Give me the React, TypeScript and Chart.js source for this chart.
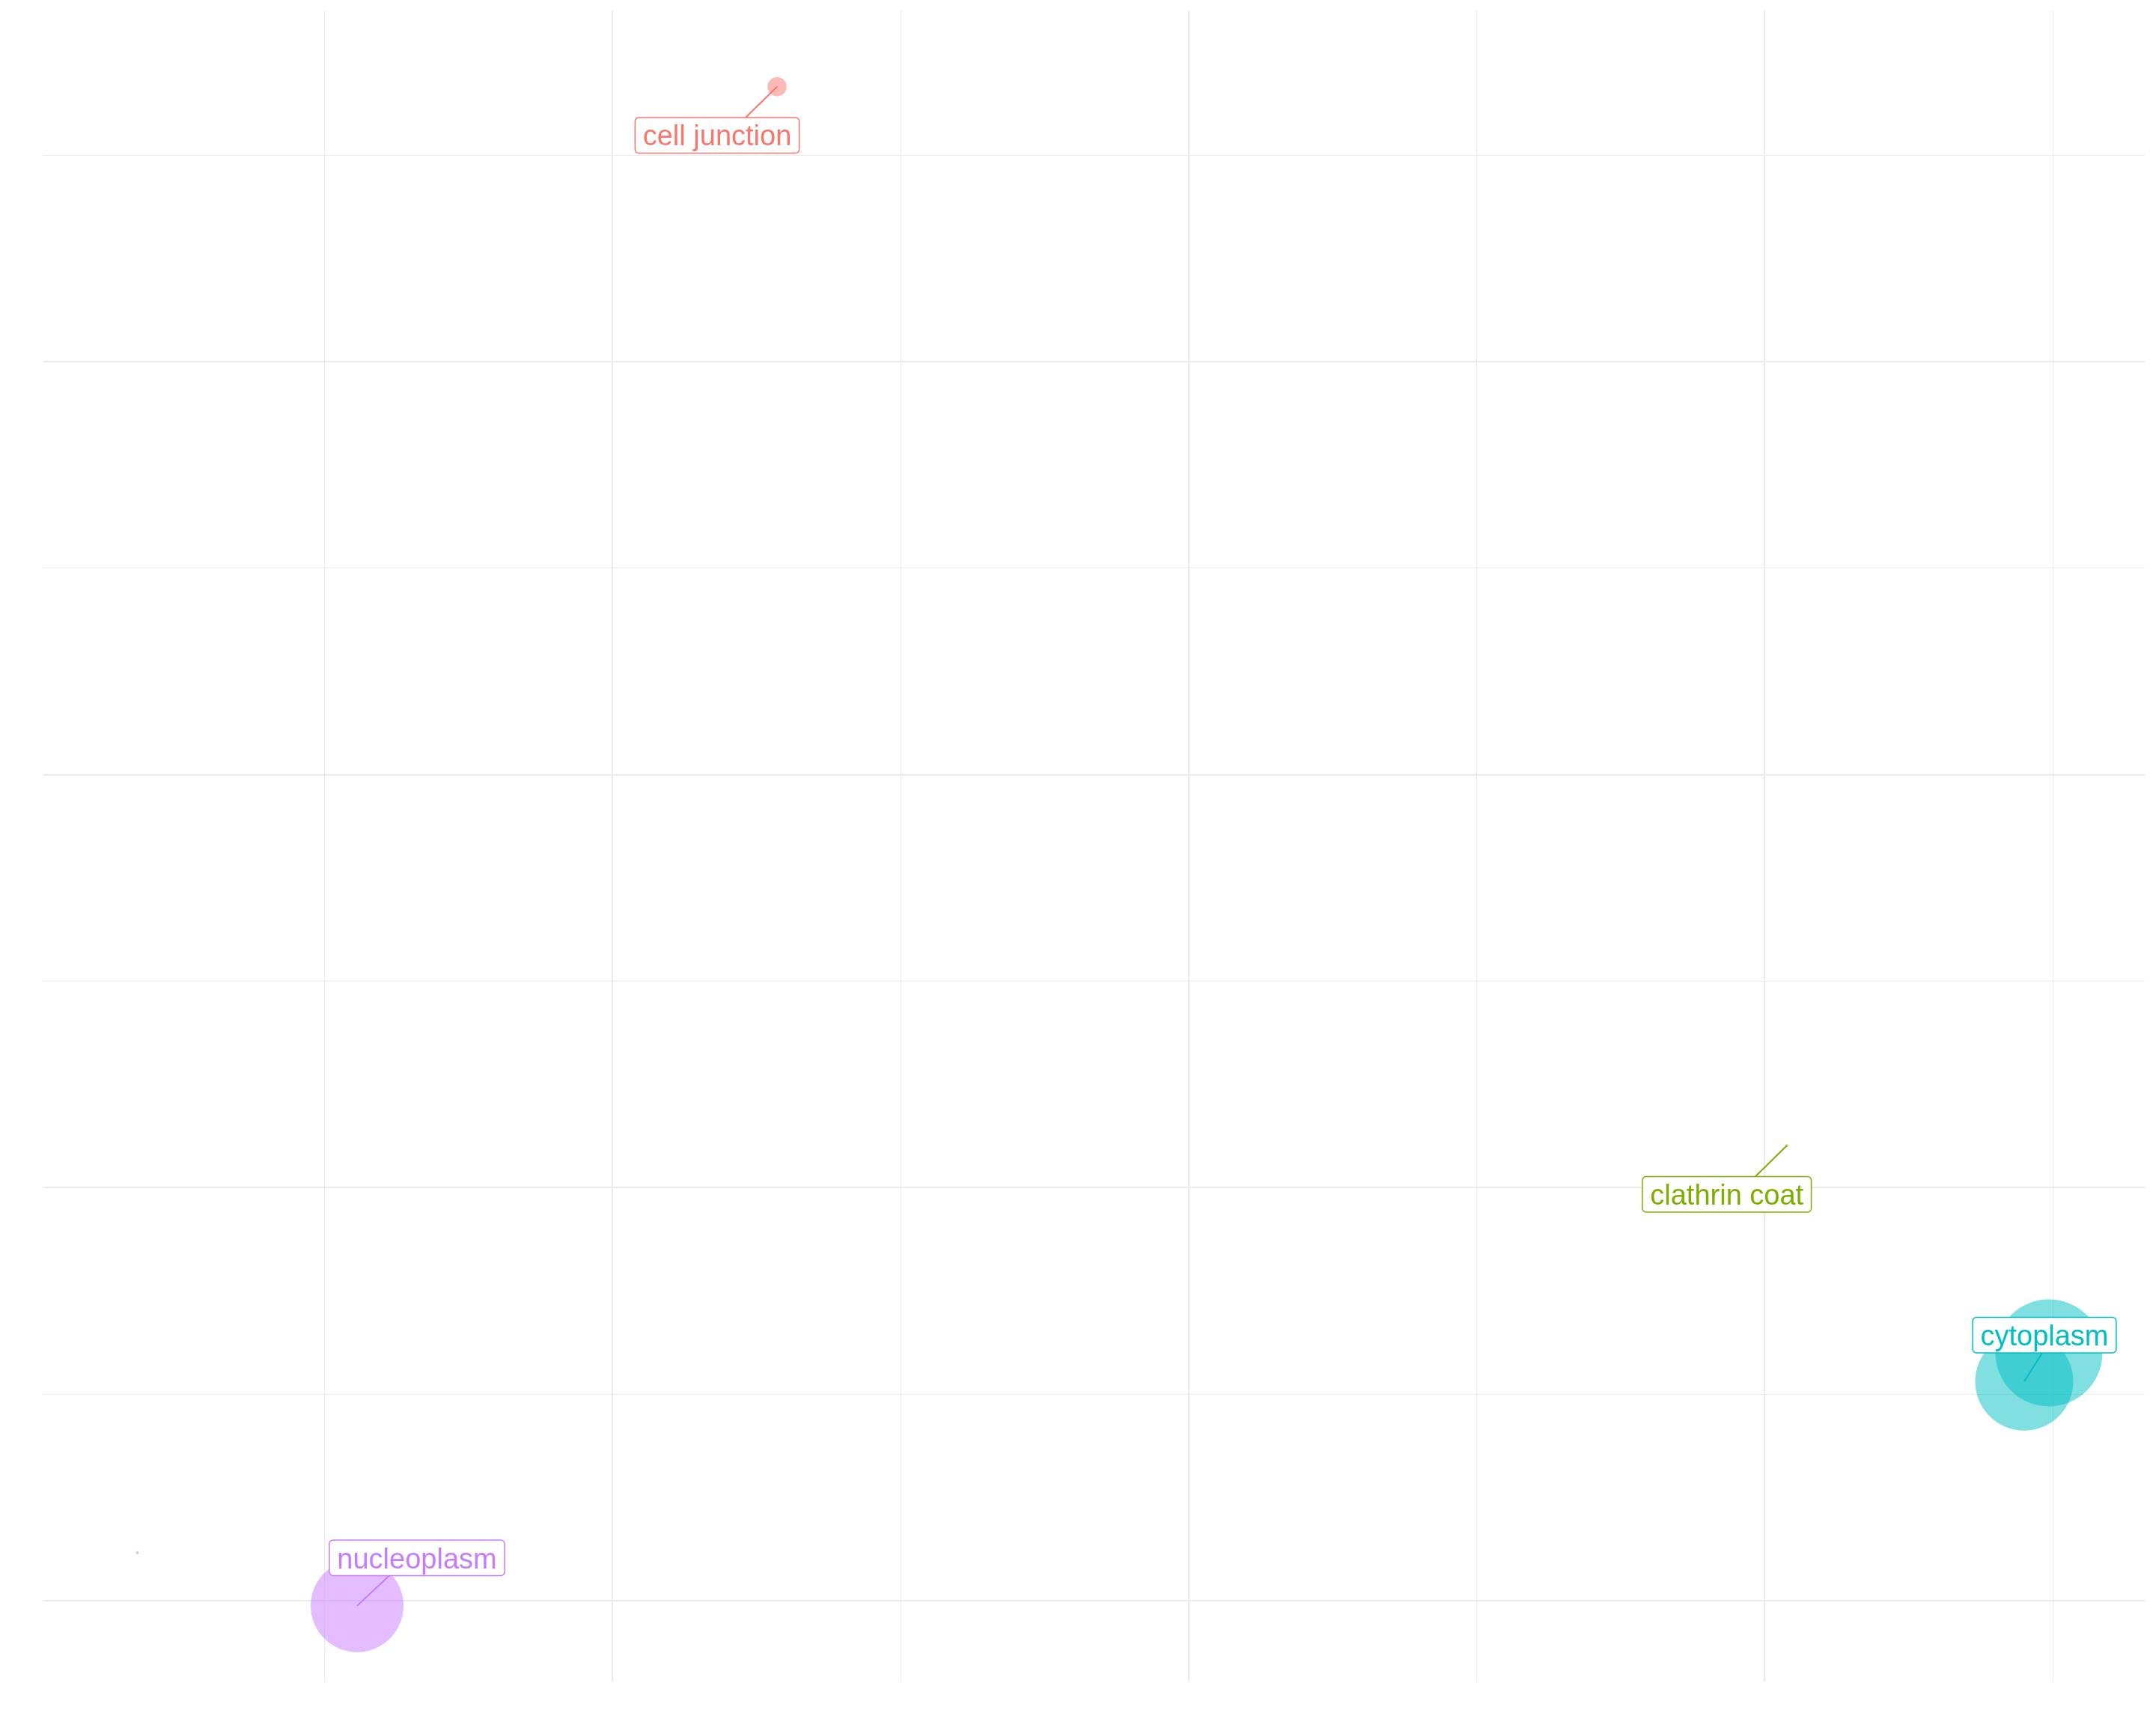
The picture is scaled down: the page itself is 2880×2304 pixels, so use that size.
import React, { useEffect, useRef } from "react";
import { Chart, registerables, BubbleController } from "chart.js";

Chart.register(...registerables);

// Bubble controller that does not widen the layout padding by the largest bubble radius
class TightBubbleController extends (BubbleController as any) {
  getMaxOverflow() {
    return false;
  }
}
(TightBubbleController as any).id = "tightBubble";
(TightBubbleController as any).defaults = (BubbleController as any).defaults;
(TightBubbleController as any).overrides = (BubbleController as any).overrides;
Chart.register(TightBubbleController as any);

// ---------- data ----------
const TERMS = ["cell junction", "clathrin coat", "cytoplasm", "nucleoplasm"];
const TERM_COLORS = ["#F8766D", "#7CAE00", "#00BFC4", "#C77CFF"];

// one entry per plotted point
const POINT_TERM = ["cell junction", "clathrin coat", "cytoplasm", "cytoplasm", "nucleoplasm", "nucleoplasm"];
const POINT_X = [1.2856, 3.038, 3.4931, 3.4502, 0.5567, 0.1753];
const POINT_Y = [4.6655, 2.1016, 1.6, 1.5306, 0.9877, 1.116];
const POINT_SIZE = [2.37, 0, 100, 83.5, 74.5, 0];

// grid breaks (no tick labels are shown)
const X_BREAKS = [0.5, 1, 1.5, 2, 2.5, 3, 3.5];
const X_MAJOR = [1, 2, 3];
const Y_BREAKS = [1, 1.5, 2, 2.5, 3, 3.5, 4, 4.5];
const Y_MAJOR = [1, 2, 3, 4];
const X_LIMITS = [0.01096, 3.65943];
const Y_LIMITS = [0.8042, 4.8499];

// which points carry a repelled label (index into point arrays) + layout offsets in px
const LABEL_LAYOUT = [
  { point: 0, dx: -80, dy: 65, sx: -42 },
  { point: 1, dx: -80, dy: 65, sx: -42 },
  { point: 3, dx: 27, dy: -62, sx: 24 },
  { point: 4, dx: 80, dy: -64, sx: 43 },
];

// ---------- styles ----------
const R_MIN = 2;
const R_MAX = 71.5;
const SIZE_MAX = 100;
const GRID_COLOR = "#EBEBEB";
const FONT_SIZE = 38;
const PAD_X = 10.4;
const BOX_H = 47.5;

function hexToRgba(hex: string, a: number) {
  const n = parseInt(hex.slice(1), 16);
  return `rgba(${(n >> 16) & 255},${(n >> 8) & 255},${n & 255},${a})`;
}

function sizeToRadius(v: number) {
  return R_MIN + (R_MAX - R_MIN) * Math.sqrt(Math.max(0, v) / SIZE_MAX);
}

export default function App() {
  const ref = useRef<HTMLCanvasElement | null>(null);

  useEffect(() => {
    if (!ref.current) return;

    const pointRefs: { ds: number; idx: number }[] = [];
    const datasets = TERMS.map((term, ti) => {
      const data: any[] = [];
      POINT_TERM.forEach((t, pi) => {
        if (t === term) {
          pointRefs[pi] = { ds: ti, idx: data.length };
          data.push({ x: POINT_X[pi], y: POINT_Y[pi], r: sizeToRadius(POINT_SIZE[pi]) });
        }
      });
      return {
        label: term,
        data,
        backgroundColor: hexToRgba(TERM_COLORS[ti], 0.5),
        borderWidth: 0,
        hoverRadius: 0,
        clip: false,
      };
    });

    const labelPlugin = {
      id: "repelLabels",
      afterDatasetsDraw(chart: any) {
        const ctx = chart.ctx as CanvasRenderingContext2D;
        ctx.save();
        ctx.font = `${FONT_SIZE}px "Liberation Sans", Arial, sans-serif`;
        LABEL_LAYOUT.forEach((l) => {
          const pr = pointRefs[l.point];
          const el = chart.getDatasetMeta(pr.ds).data[pr.idx];
          const px = el.x;
          const py = el.y;
          const term = POINT_TERM[l.point];
          const color = TERM_COLORS[TERMS.indexOf(term)];
          const tw = ctx.measureText(term).width;
          const w = tw + 2 * PAD_X;
          const cx = px + l.dx;
          const cy = py + l.dy;
          const x0 = cx - w / 2;
          const y0 = cy - BOX_H / 2;
          const sy = l.dy > 0 ? y0 - py : y0 + BOX_H - py;
          // segment
          ctx.strokeStyle = color;
          ctx.lineWidth = 2;
          ctx.beginPath();
          ctx.moveTo(px + l.sx, py + sy);
          ctx.lineTo(px, py);
          ctx.stroke();
          // box
          ctx.beginPath();
          (ctx as any).roundRect(x0, y0, w, BOX_H, 5);
          ctx.fillStyle = "#FFFFFF";
          ctx.fill();
          ctx.lineWidth = 1.5;
          ctx.stroke();
          // text
          ctx.fillStyle = color;
          ctx.textAlign = "center";
          ctx.textBaseline = "alphabetic";
          ctx.fillText(term, cx, y0 + BOX_H - 10);
        });
        ctx.restore();
      },
    };

    const chart = new Chart(ref.current, {
      type: "tightBubble" as any,
      data: { datasets },
      options: {
        responsive: false,
        animation: false,
        events: [],
        layout: { padding: { left: 57, right: 15, top: 14, bottom: 58 } },
        plugins: {
          legend: { display: false },
          tooltip: { enabled: false },
        },
        scales: {
          x: {
            type: "linear",
            min: X_LIMITS[0],
            max: X_LIMITS[1],
            afterBuildTicks: (axis: any) => {
              axis.ticks = X_BREAKS.map((v) => ({ value: v }));
            },
            ticks: { display: false },
            border: { display: false },
            grid: {
              color: GRID_COLOR,
              drawTicks: false,
              lineWidth: (c: any) => (X_MAJOR.includes(c.tick?.value) ? 2 : 1),
            },
          },
          y: {
            type: "linear",
            min: Y_LIMITS[0],
            max: Y_LIMITS[1],
            afterBuildTicks: (axis: any) => {
              axis.ticks = Y_BREAKS.map((v) => ({ value: v }));
            },
            ticks: { display: false },
            border: { display: false },
            grid: {
              color: GRID_COLOR,
              drawTicks: false,
              lineWidth: (c: any) => (Y_MAJOR.includes(c.tick?.value) ? 2 : 1),
            },
          },
        },
      } as any,
      plugins: [labelPlugin],
    });

    return () => chart.destroy();
  }, []);

  return (
    <div style={{ position: "fixed", left: 0, top: 0, width: 2880, height: 2304, background: "#FFFFFF" }}>
      <canvas ref={ref} width={2880} height={2304} style={{ display: "block" }} />
    </div>
  );
}
